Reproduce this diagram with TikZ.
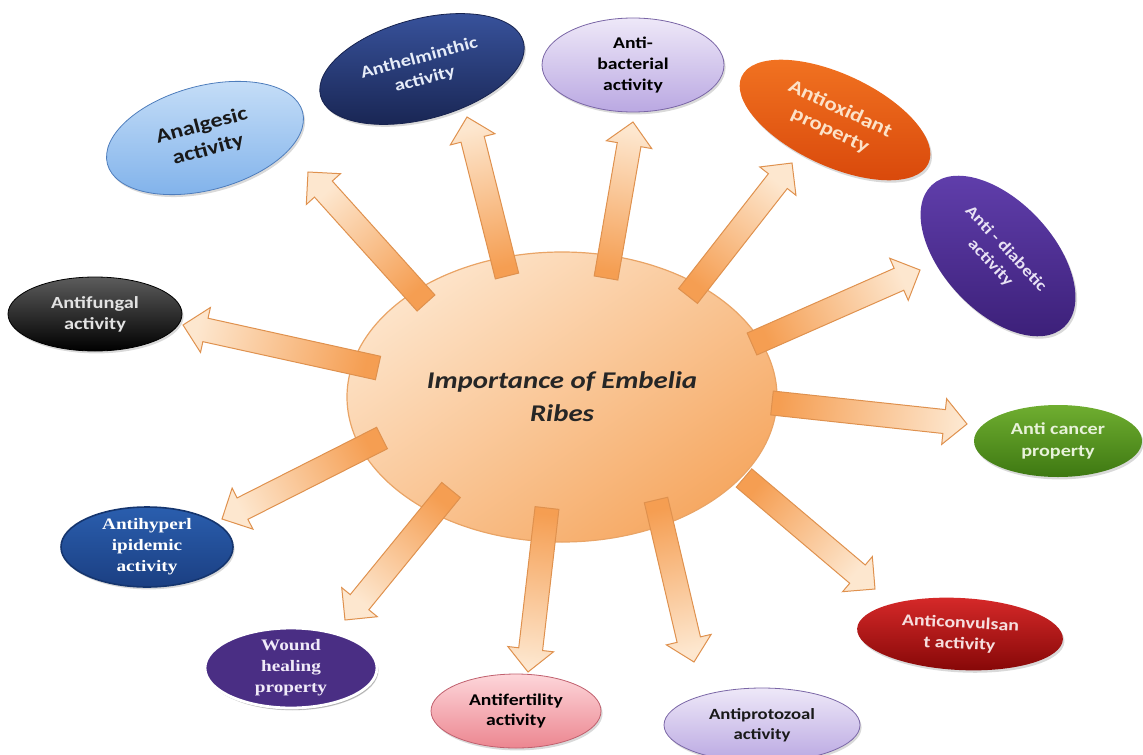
\documentclass[tikz,border=0pt]{standalone}
\usepackage{fontspec}
\setmainfont[FakeStretch=1.2]{Carlito}
\newfontfamily\timesface[FakeStretch=1.2]{Liberation Serif}
\usetikzlibrary{calc,shapes.geometric,shadows}

\definecolor{hubtop}{HTML}{FDE4CA}
\definecolor{hubbot}{HTML}{F6A862}
\definecolor{hubline}{HTML}{E9A466}
\definecolor{arrowdark}{HTML}{F59E52}
\definecolor{arrowlight}{HTML}{FDE7CF}
\definecolor{arrowline}{HTML}{DF914E}
\definecolor{anaA}{HTML}{C9E0F8}
\definecolor{anaB}{HTML}{7DB0EA}
\definecolor{anaC}{HTML}{4E7DBC}
\definecolor{helmA}{HTML}{3A55A0}
\definecolor{helmB}{HTML}{17234F}
\definecolor{helmT}{HTML}{E6ECF8}
\definecolor{lilacA}{HTML}{EEE8F8}
\definecolor{lilacB}{HTML}{BAA8E2}
\definecolor{lilacC}{HTML}{7A66A6}
\definecolor{oxiA}{HTML}{F27422}
\definecolor{oxiB}{HTML}{D8470A}
\definecolor{oxiT}{HTML}{FCE2C8}
\definecolor{diabA}{HTML}{6240AE}
\definecolor{diabB}{HTML}{3A1E76}
\definecolor{diabT}{HTML}{E8E2F4}
\definecolor{cancA}{HTML}{6FAE30}
\definecolor{cancB}{HTML}{3E7812}
\definecolor{cancT}{HTML}{E8F2DA}
\definecolor{convA}{HTML}{D82A2A}
\definecolor{convB}{HTML}{870808}
\definecolor{convT}{HTML}{F6DEDE}
\definecolor{fertA}{HTML}{FDD6DA}
\definecolor{fertB}{HTML}{EC8690}
\definecolor{fertC}{HTML}{C0606E}
\definecolor{woundA}{HTML}{4A2E84}
\definecolor{woundT}{HTML}{F0EAF8}
\definecolor{lipidA}{HTML}{2A5EAE}
\definecolor{lipidB}{HTML}{1B3F82}
\definecolor{lipidC}{HTML}{15356E}
\definecolor{fungA}{HTML}{5C5C5C}
\definecolor{fungT}{HTML}{E2E2E2}

\tikzstyle{hub} = [ellipse, inner sep=0pt, minimum width=215pt, minimum height=145pt, draw=hubline, line width=0.6pt, top color=hubtop, bottom color=hubbot, shading angle=35, align=center, font=\fontsize{12}{16.5}\selectfont\bfseries\itshape, text=black!85]
\tikzstyle{bubble} = [ellipse, inner sep=0pt, align=center, drop shadow={shadow xshift=0.8pt, shadow yshift=-1.2pt, opacity=0.3}]
\tikzstyle{spoke} = [draw=arrowline, line width=0.5pt, line join=miter, top color=arrowdark, bottom color=arrowlight]

% freccia a blocco: coda, punta, angolo della sfumatura
\newcommand{\radialarrow}[3]{%
  \draw[spoke, shading angle=#3]
    ($(#1)!6pt!90:(#2)$) --
    ($(#2)!11.5pt!(#1)!6pt!-90:(#1)$) --
    ($(#2)!11.5pt!(#1)!11.5pt!-90:(#1)$) --
    (#2) --
    ($(#2)!11.5pt!(#1)!11.5pt!90:(#1)$) --
    ($(#2)!11.5pt!(#1)!6pt!90:(#1)$) --
    ($(#1)!6pt!-90:(#2)$) -- cycle;
}

\begin{document}
\begin{tikzpicture}[x=0.5pt, y=-0.5pt]
    \useasboundingbox (0,0) rectangle (1143,754);

    % Nodo centrale
    \node (hub) [hub] at (562,397) {Importance of Embelia\\Ribes};

    % Attivita' intorno
    \node (ana) [bubble, rotate=15, minimum width=101pt, minimum height=52pt, top color=anaA, bottom color=anaB, draw=anaC, text=black!90, font=\fontsize{10}{12.5}\selectfont\bfseries] at (205,138) {Analgesic\\activity};
    \node (helm) [bubble, rotate=15, minimum width=105pt, minimum height=50pt, top color=helmA, bottom color=helmB, draw=helmB, text=helmT, font=\fontsize{8.5}{10.8}\selectfont\bfseries] at (422,69) {Anthelminthic\\activity};
    \node (bact) [bubble, minimum width=91pt, minimum height=47pt, top color=lilacA, bottom color=lilacB, draw=lilacC, text=black, font=\fontsize{8.2}{10.3}\selectfont\bfseries] at (633,65) {Anti-\\bacterial\\activity};
    \node (oxi) [bubble, rotate=-25, minimum width=103pt, minimum height=46pt, top color=oxiA, bottom color=oxiB, text=oxiT, font=\fontsize{9.6}{12}\selectfont\bfseries] at (835,120) {Antioxidant\\property};
    \node (diab) [bubble, rotate=-47, minimum width=97pt, minimum height=55pt, top color=diabA, bottom color=diabB, text=diabT, font=\fontsize{8}{10.5}\selectfont\bfseries] at (998,256) {Anti - diabetic\\activity};
    \node (canc) [bubble, minimum width=84pt, minimum height=36pt, top color=cancA, bottom color=cancB, text=cancT, font=\fontsize{8.4}{10.6}\selectfont\bfseries] at (1058,441) {Anti cancer\\property};
    \node (conv) [bubble, rotate=-3, minimum width=103pt, minimum height=36pt, top color=convA, bottom color=convB, text=convT, font=\fontsize{8.3}{10.4}\selectfont\bfseries] at (960,634) {Anticonvulsan\\t activity};
    \node (proto) [bubble, minimum width=98pt, minimum height=37pt, top color=lilacA, bottom color=lilacB, draw=lilacC, text=black!90, font=\fontsize{7.8}{10}\selectfont\bfseries] at (762,725) {Antiprotozoal\\activity};
    \node (fert) [bubble, minimum width=85pt, minimum height=37pt, top color=fertA, bottom color=fertB, draw=fertC, text=black, font=\fontsize{8.2}{10.3}\selectfont\bfseries] at (516,711) {Antifertility\\activity};
    \node (wound) [bubble, minimum width=86pt, minimum height=38pt, fill=woundA, draw=white, line width=1.4pt, drop shadow={shadow xshift=0.6pt, shadow yshift=-1pt, opacity=0.5}, text=woundT, font=\fontsize{8}{10.5}\selectfont\timesface\bfseries] at (291,668) {Wound\\healing\\property};
    \node (lipid) [bubble, minimum width=86pt, minimum height=38pt, top color=lipidA, bottom color=lipidB, draw=lipidC, line width=0.8pt, text=white, font=\fontsize{8}{10.5}\selectfont\timesface\bfseries] at (147,547) {Antihyperl\\ipidemic\\activity};
    \node (fung) [bubble, minimum width=87pt, minimum height=37pt, top color=fungA, bottom color=black, draw=black, text=fungT, font=\fontsize{8.5}{10.6}\selectfont\bfseries] at (95,314) {Antifungal\\activity};

    % Estremi delle frecce
    \coordinate (ana-s) at ($(hub)+(-136,-94)$);
    \coordinate (ana-e) at ($(ana)+(103,34)$);
    \coordinate (helm-s) at ($(hub)+(-55,-121)$);
    \coordinate (helm-e) at ($(helm)+(45,48)$);
    \coordinate (bact-s) at ($(hub)+(44,-119)$);
    \coordinate (bact-e) at ($(bact)+(0,57)$);
    \coordinate (oxi-s) at ($(hub)+(126,-101)$);
    \coordinate (oxi-e) at ($(oxi)+(-43,43)$);
    \coordinate (diab-s) at ($(hub)+(190,-53)$);
    \coordinate (diab-e) at ($(diab)+(-78,14)$);
    \coordinate (canc-s) at ($(hub)+(210,6)$);
    \coordinate (canc-e) at ($(canc)+(-91,-17)$);
    \coordinate (conv-s) at ($(hub)+(182,81)$);
    \coordinate (conv-e) at ($(conv)+(-85,-45)$);
    \coordinate (proto-s) at ($(hub)+(94,103)$);
    \coordinate (proto-e) at ($(proto)+(-68,-63)$);
    \coordinate (fert-s) at ($(hub)+(-15,111)$);
    \coordinate (fert-e) at ($(fert)+(12,-39)$);
    \coordinate (wound-s) at ($(hub)+(-111,93)$);
    \coordinate (wound-e) at ($(wound)+(54,-48)$);
    \coordinate (lipid-s) at ($(hub)+(-180,41)$);
    \coordinate (lipid-e) at ($(lipid)+(75,-28)$);
    \coordinate (fung-s) at ($(hub)+(-184,-29)$);
    \coordinate (fung-e) at ($(fung)+(88,11)$);

    % Frecce
    \radialarrow{ana-s}{ana-e}{222}
    \radialarrow{helm-s}{helm-e}{194}
    \radialarrow{bact-s}{bact-e}{170}
    \radialarrow{oxi-s}{oxi-e}{142}
    \radialarrow{diab-s}{diab-e}{114}
    \radialarrow{canc-s}{canc-e}{84}
    \radialarrow{conv-s}{conv-e}{50}
    \radialarrow{proto-s}{proto-e}{13}
    \radialarrow{fert-s}{fert-e}{-7}
    \radialarrow{wound-s}{wound-e}{-39}
    \radialarrow{lipid-s}{lipid-e}{-63}
    \radialarrow{fung-s}{fung-e}{257}

\end{tikzpicture}
\end{document}
